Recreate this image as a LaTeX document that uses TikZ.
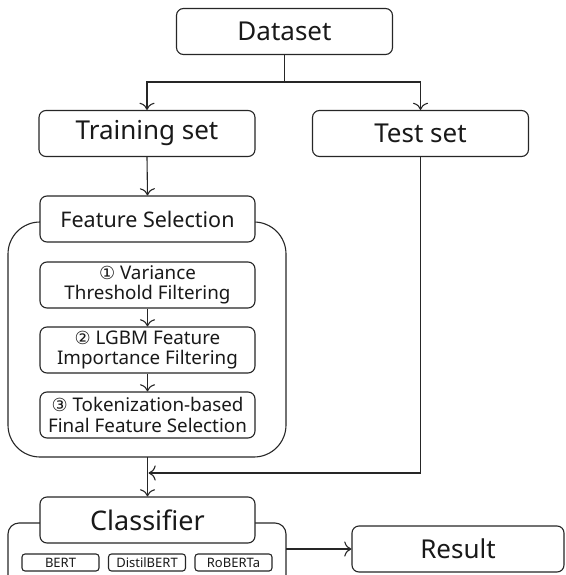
\documentclass[tikz,border=0pt]{standalone}
\usepackage{fontspec}
\setmainfont{Noto Sans}
\newfontfamily\dvfont{DejaVu Sans}
\usetikzlibrary{arrows.meta}
\begin{document}
\begin{tikzpicture}[x=1pt,y=-1pt,
  line width=1.1pt,
  box/.style={draw=black!85, rounded corners=7pt, fill=white, align=center, inner sep=0pt, text=black!90},
  bigbox/.style={box, minimum width=216pt, minimum height=46pt, font=\fontsize{26}{28}\selectfont},
  fsbox/.style={box, minimum width=215pt, minimum height=46pt, font=\fontsize{21.5}{24}\selectfont},
  subbox/.style={box, minimum width=215pt, minimum height=46pt, font=\fontsize{18.8}{20.5}\selectfont},
  modelbox/.style={box, rounded corners=3pt, minimum width=77pt, minimum height=17pt, font=\fontsize{13}{13}\selectfont},
  arr/.style={-{To[scale=1.8]}},
  cont/.style={draw=black!85, rounded corners=32pt}
]
\useasboundingbox (0,0) rectangle (565,575);

% containers
\draw[cont] (8,222) rectangle (286,457);
\draw[draw=black!85, rounded corners=11pt] (8,575) -- (8,523) -- (286,523) -- (286,575);

% nodes
\node[bigbox] (ds) at (284.5,31.5) {Dataset};
\node[bigbox] (tr) at (147,133.5) {Training set};
\node[bigbox] (te) at (420.5,133.5) {Test set};
\node[fsbox] (fs) at (147.5,219) {Feature Selection};
\node[subbox] (s1) at (147.5,285) {{\dvfont\fontsize{18}{18}\selectfont ①} Variance\\Threshold Filtering};
\node[subbox] (s2) at (147.5,350) {{\dvfont\fontsize{18}{18}\selectfont ②} LGBM Feature\\Importance Filtering};
\node[subbox] (s3) at (147.5,415) {{\dvfont\fontsize{18}{18}\selectfont ③} Tokenization-based\\Final Feature Selection};
\node[bigbox, minimum width=215pt, font=\fontsize{27}{29}\selectfont] (cl) at (147.5,520) {Classifier};
\node[modelbox] (m1) at (60.5,562.5) {BERT};
\node[modelbox] (m2) at (147,562.5) {DistilBERT};
\node[modelbox] (m3) at (233.5,562.5) {RoBERTa};
\node[bigbox, minimum width=212pt] (res) at (458,549) {Result};

% connector points
\coordinate (split) at (284.5,82);
\coordinate (fsbot) at (147.5,457);
\coordinate (join) at (148.5,473);
\coordinate (clr) at (286,549);

% connectors
\draw[draw=black!85] (ds.south) -- (split);
\draw[draw=black!85, arr] (split) -| (tr.north);
\draw[draw=black!85, arr] (split) -| (te.north);
\draw[draw=black!85, arr] (tr.south) -- (fs.north);
\draw[draw=black!85, arr] (s1.south) -- (s2.north);
\draw[draw=black!85, arr] (s2.south) -- (s3.north);
\draw[draw=black!85, arr] (fsbot) -- (cl.north);
\draw[draw=black!85, arr] (te.south) |- (join);
\draw[draw=black!85, arr] (clr) -- (res.west);
\end{tikzpicture}
\end{document}
